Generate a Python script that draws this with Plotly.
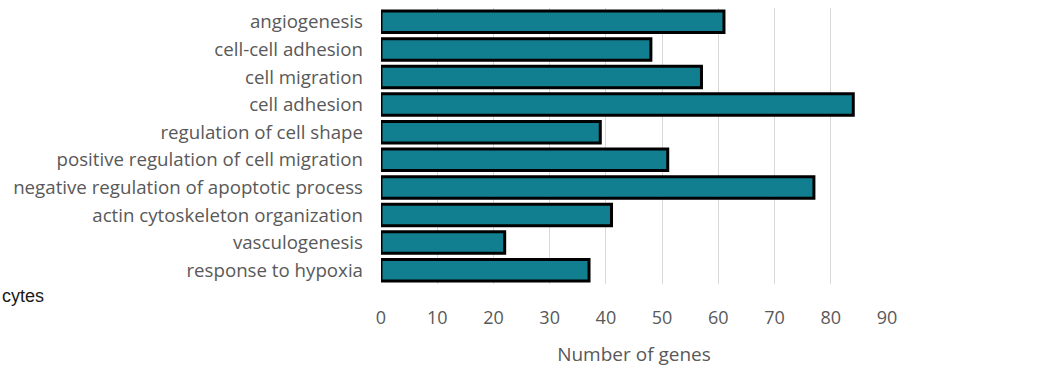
import plotly.graph_objects as go

categories = [
    "angiogenesis",
    "cell-cell adhesion",
    "cell migration",
    "cell adhesion",
    "regulation of cell shape",
    "positive regulation of cell migration",
    "negative regulation of apoptotic process",
    "actin cytoskeleton organization",
    "vasculogenesis",
    "response to hypoxia",
]
gene_counts = [61, 48, 57, 84, 39, 51, 77, 41, 22, 37]
x_ticks = [0, 10, 20, 30, 40, 50, 60, 70, 80, 90]

FONT = "Open Sans"
GRAY = "#595959"

W, H = 1056, 367
ML, MR, MT, MB = 381, 169, 8, 83

fig = go.Figure(
    go.Bar(
        y=categories,
        x=gene_counts,
        orientation="h",
        width=0.78,
        marker=dict(color="#127F91", line=dict(color="#000000", width=3)),
    )
)

fig.update_layout(
    width=W,
    height=H,
    margin=dict(l=ML, r=MR, t=MT, b=MB),
    paper_bgcolor="white",
    plot_bgcolor="white",
    showlegend=False,
    font=dict(family=FONT, color=GRAY, size=16),
    xaxis=dict(
        range=[0, 90],
        tickvals=x_ticks,
        ticktext=[str(v) for v in x_ticks],
        showgrid=True,
        gridcolor="#d9d9d9",
        gridwidth=1,
        zeroline=False,
        showline=False,
        automargin=False,
        tickfont=dict(family=FONT, size=18, color=GRAY),
        ticklabelstandoff=21,
        title=dict(text="Number of genes", font=dict(family=FONT, size=19, color=GRAY), standoff=22),
    ),
    yaxis=dict(
        categoryorder="array",
        categoryarray=categories[::-1],
        showgrid=False,
        zeroline=False,
        showline=False,
        automargin=False,
        tickfont=dict(family=FONT, size=18.7, color=GRAY),
        ticklabelstandoff=17,
        ticks="",
    ),
    annotations=[
        dict(
            text="cytes",
            x=-ML / (W - ML - MR),
            y=(H - MB - 296) / (H - MT - MB),
            xref="paper",
            yref="paper",
            showarrow=False,
            xanchor="left",
            yanchor="middle",
            font=dict(family="Liberation Sans", size=18, color="#1a1a1a"),
        )
    ],
)

fig.write_html("out.html")
